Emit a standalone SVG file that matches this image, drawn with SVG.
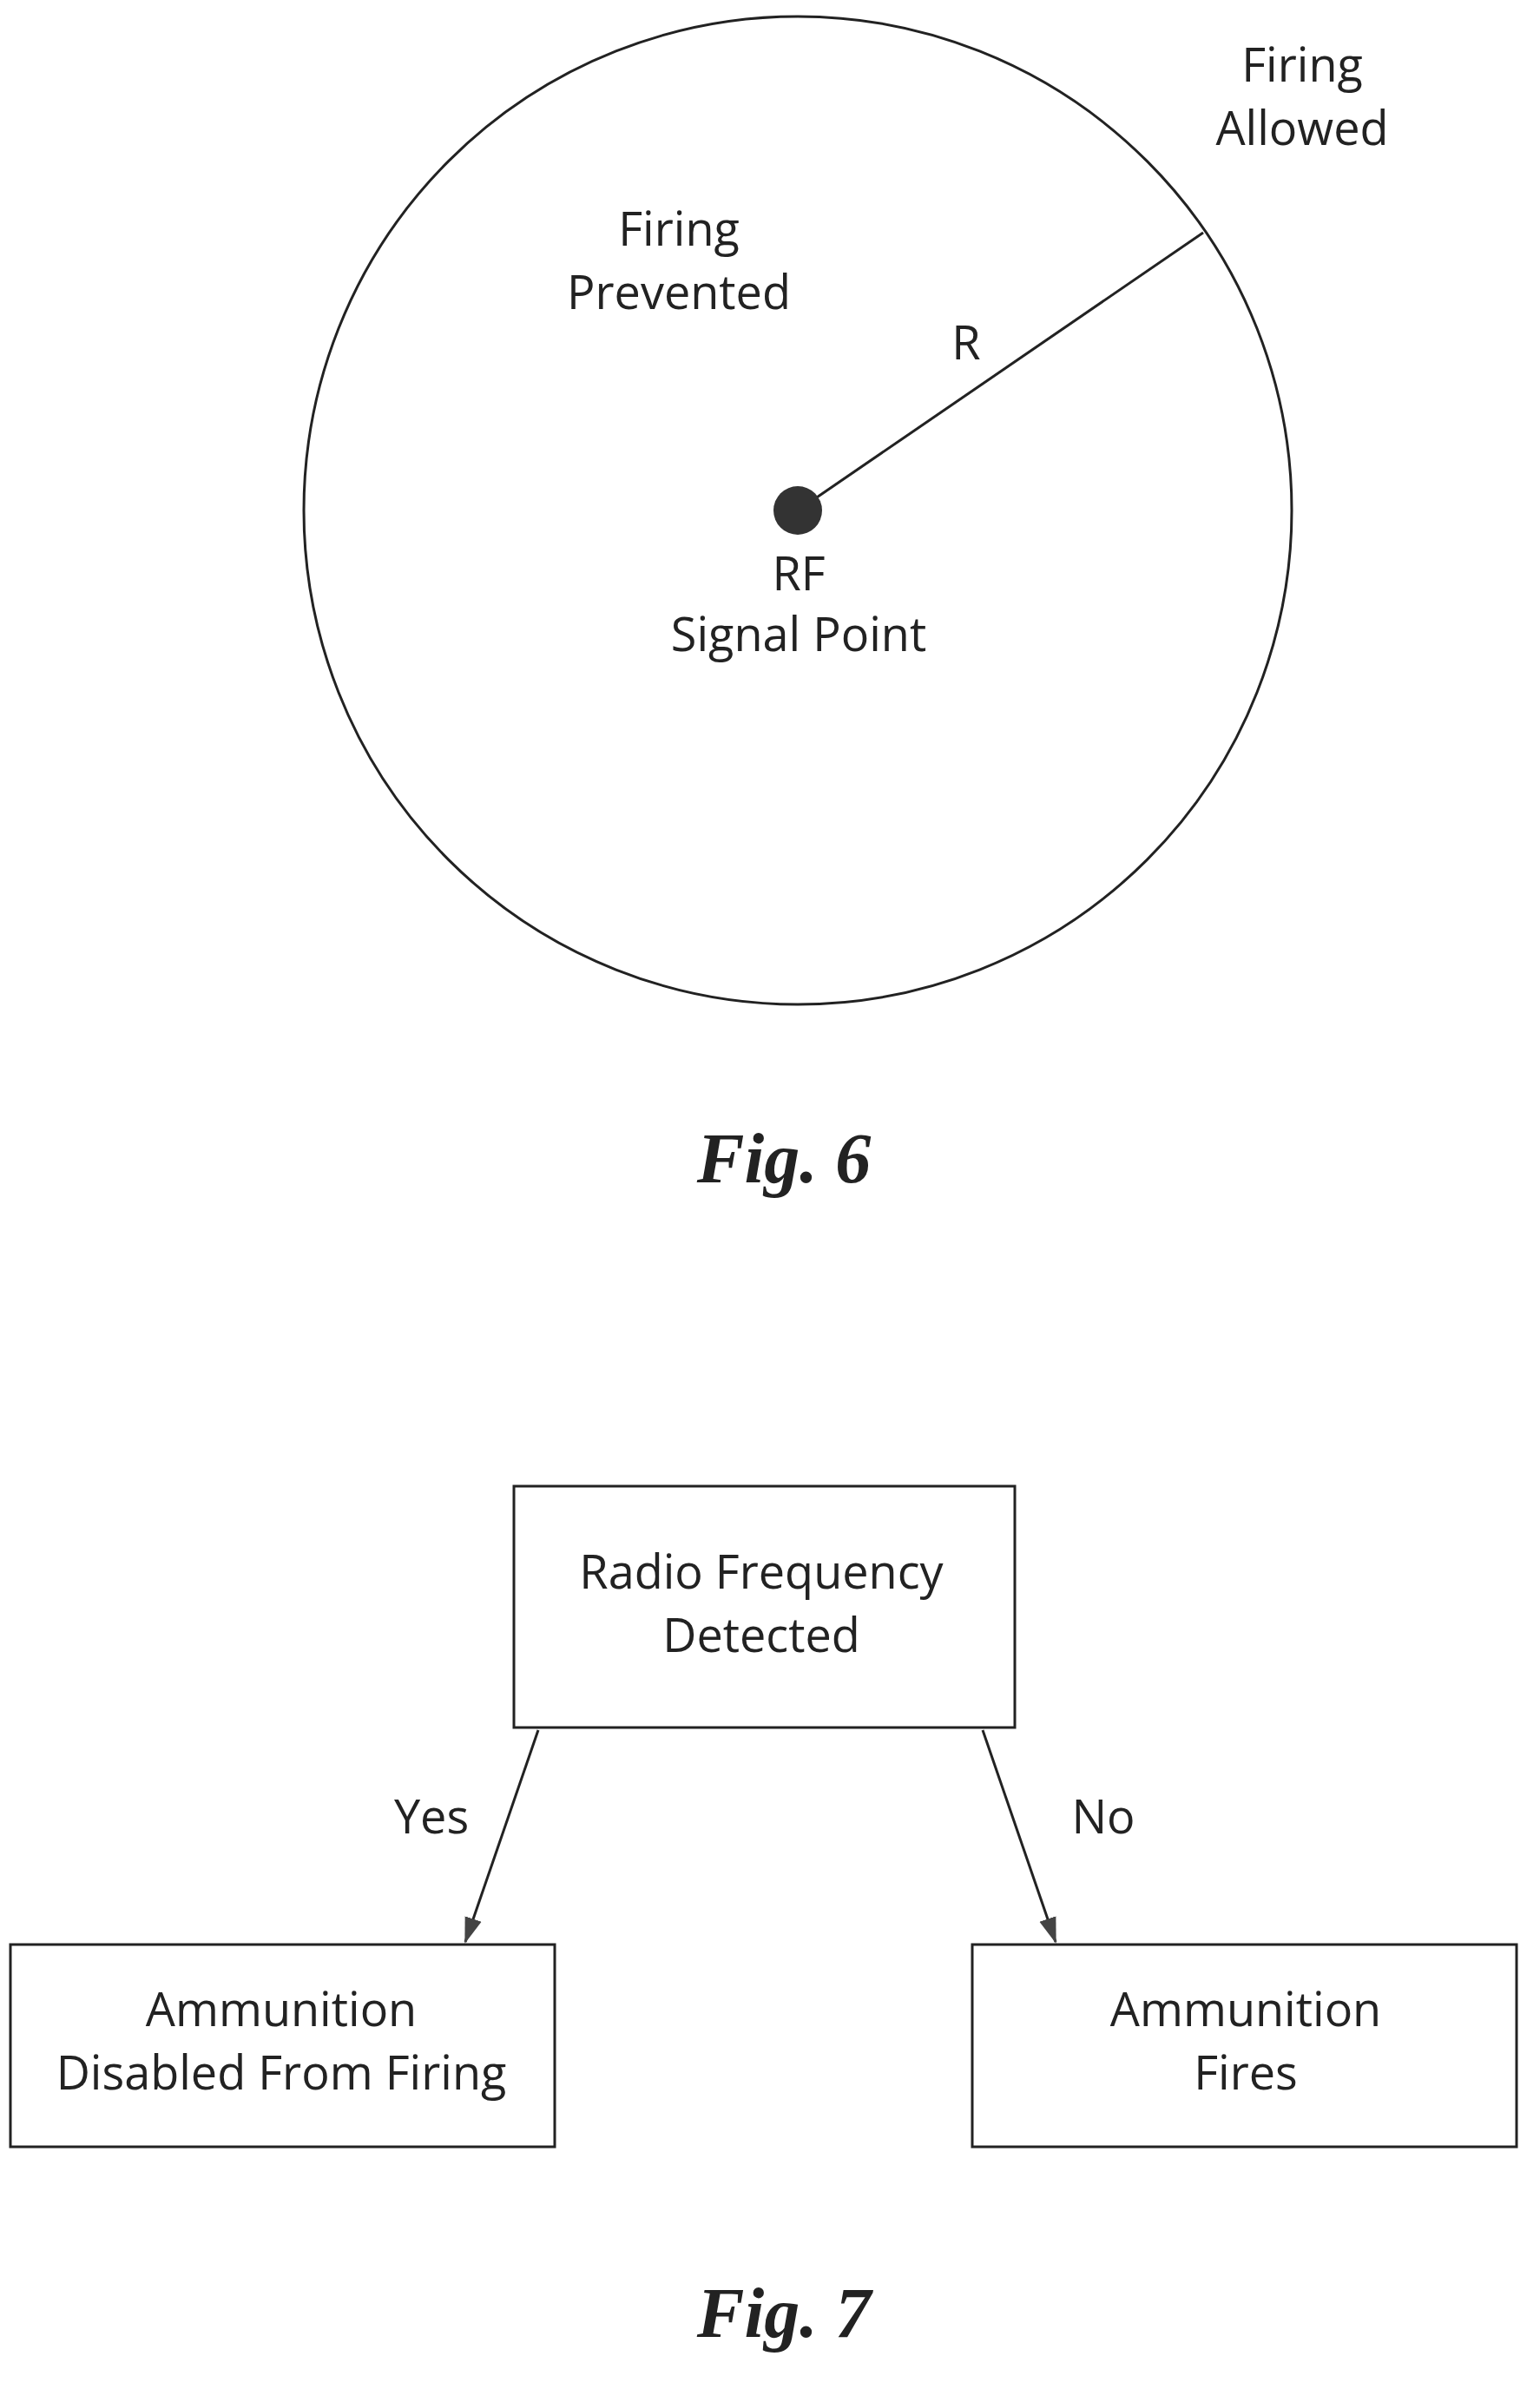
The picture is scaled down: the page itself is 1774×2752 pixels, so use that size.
<svg xmlns="http://www.w3.org/2000/svg" width="1774" height="2752" viewBox="0 0 1774 2752">
<style>
.t{font-family:"Open Sans","Liberation Sans",sans-serif;font-size:54px;fill:#222;text-anchor:middle}
.f{font-family:"Liberation Serif",serif;font-size:82px;font-weight:bold;font-style:italic;fill:#222;text-anchor:middle}
.b{fill:#fff;stroke:#222;stroke-width:3}
.c{stroke:#222;stroke-width:3;fill:none}
</style>
<defs>
<marker id="ah" markerWidth="30" markerHeight="24" refX="28" refY="12" orient="auto" markerUnits="userSpaceOnUse"><path d="M0,2L30,12L0,22z" fill="#444"/></marker></defs>
<g id="fig6">
<circle cx="919" cy="588" r="569" class="c"/>
<line x1="919" y1="588" x2="1386" y2="268" class="c"/>
<circle cx="919" cy="588" r="28" fill="#333"/>
<text class="t" x="1500" y="94">Firing</text><text class="t" x="1500" y="167">Allowed</text>
<text class="t" x="782" y="283">Firing</text><text class="t" x="782" y="356">Prevented</text>
<text class="t" x="1113" y="414">R</text>
<text class="t" x="920" y="680">RF</text><text class="t" x="920" y="750">Signal Point</text>
<text class="f" x="903" y="1362">Fig. 6</text>
</g>
<g id="n1"><rect class="b" x="592" y="1712" width="577" height="278"/>
<text class="t" x="877" y="1830">Radio Frequency</text><text class="t" x="877" y="1903">Detected</text></g>
<g id="n2"><rect class="b" x="12" y="2240" width="627" height="233"/>
<text class="t" x="324" y="2334">Ammunition</text><text class="t" x="324" y="2407">Disabled From Firing</text></g>
<g id="n3"><rect class="b" x="1120" y="2240" width="627" height="233"/>
<text class="t" x="1435" y="2334">Ammunition</text><text class="t" x="1435" y="2407">Fires</text></g>
<g id="connectors">
<line x1="620" y1="1993" x2="536" y2="2237" class="c" marker-end="url(#ah)"/>
<line x1="1132" y1="1993" x2="1216" y2="2237" class="c" marker-end="url(#ah)"/>
<text class="t" x="497" y="2112">Yes</text><text class="t" x="1271" y="2112">No</text>
</g>
<text class="f" x="903" y="2692">Fig. 7</text>
</svg>
